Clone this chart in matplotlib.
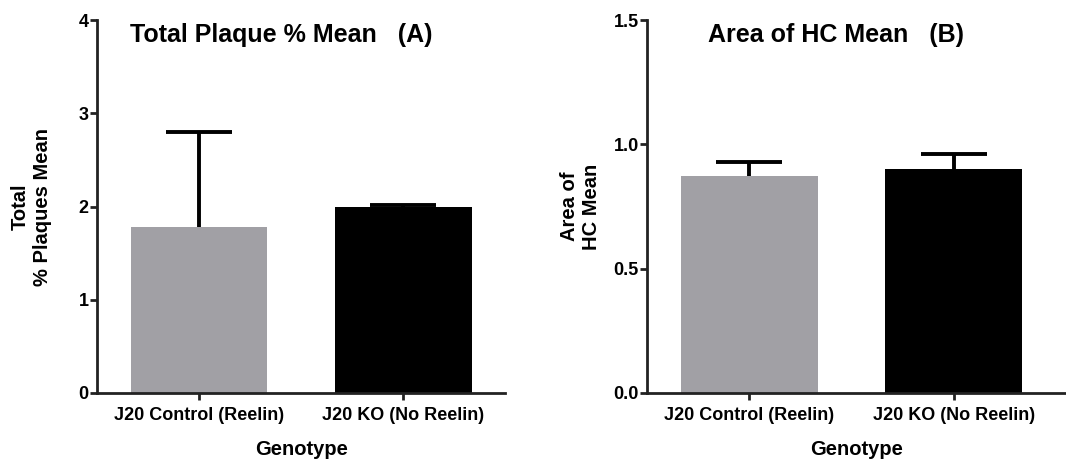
import matplotlib
matplotlib.use("Agg")
import matplotlib.pyplot as plt

plt.rcParams['font.family'] = ['Liberation Sans', 'DejaVu Sans']
plt.rcParams['font.weight'] = 'bold'

genotypes = ["J20 Control (Reelin)", "J20 KO (No Reelin)"]
plaque_mean = [1.78, 2.00]
plaque_err = [1.02, 0.02]
hc_mean = [0.874, 0.902]
hc_err = [0.056, 0.059]
bar_colors = ["#a1a0a5", "#000000"]

fig = plt.figure(figsize=(10.66, 4.59), dpi=100)
axA = fig.add_axes([0.091, 0.144, 0.383, 0.812])
axB = fig.add_axes([0.607, 0.144, 0.393, 0.812])

def draw(ax, means, errs, xmax, ylim, yticks, yfmt, ylabel, title):
    x = list(range(len(genotypes)))
    ax.bar(x, means, width=0.67, color=bar_colors, zorder=2)
    eb = ax.errorbar(x, means, yerr=[[0] * len(errs), errs], fmt="none",
                     ecolor="black", elinewidth=2.8, capsize=24, capthick=2.8, zorder=1)
    # only the upper cap is drawn
    eb[1][0].set_visible(False)
    ax.set_xlim(-0.5, xmax)
    ax.set_ylim(*ylim)
    ax.set_yticks(yticks)
    ax.set_yticklabels([yfmt % v for v in yticks])
    ax.set_xticks(x)
    ax.set_xticklabels(genotypes)
    for s in ["top", "right"]:
        ax.spines[s].set_visible(False)
    for s in ["left", "bottom"]:
        ax.spines[s].set_linewidth(2)
        ax.spines[s].set_color("#222222")
    ax.tick_params(axis="both", width=2, length=5, labelsize=13, color="#222222")
    ax.tick_params(axis="y", pad=1)
    ax.tick_params(axis="x", pad=5)
    ax.set_xlabel("Genotype", fontsize=14.5, fontweight="bold", labelpad=12)
    ax.set_ylabel(ylabel, fontsize=14.5, fontweight="bold")
    ax.yaxis.set_label_coords(-0.11, 0.5)
    ax.text(0.452, 0.96, title, transform=ax.transAxes, fontsize=18,
            fontweight="bold", ha="center", va="center")

draw(axA, plaque_mean, plaque_err, 1.5, (0, 4), [0, 1, 2, 3, 4], "%d",
     "Total\n% Plaques Mean", "Total Plaque % Mean   (A)")
draw(axB, hc_mean, hc_err, 1.55, (0, 1.5), [0.0, 0.5, 1.0, 1.5], "%.1f",
     "Area of\nHC Mean", "Area of HC Mean   (B)")

fig.savefig("out.png", dpi=100)
